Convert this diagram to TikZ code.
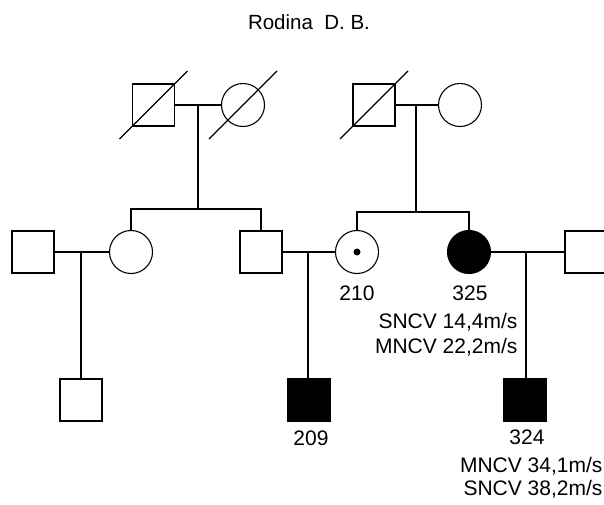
\documentclass[tikz,border=0pt]{standalone}
\usepackage{fontspec}
\setmainfont{Liberation Sans}
\tikzset{
  male/.style={draw,rectangle,minimum size=42pt,inner sep=0pt},
  female/.style={draw,circle,minimum size=43pt,inner sep=0pt},
  ill/.style={fill=black},
  lbl/.style={font=\fontsize{21}{25}\selectfont,inner sep=0pt}
}
\begin{document}
\begin{tikzpicture}[x=1pt,y=-1pt,line width=1.1pt]
\useasboundingbox (0,0) rectangle (604,504);
\clip (0,0) rectangle (604,504);

\node[lbl,font=\fontsize{20.5}{24}\selectfont] (title) at (309,22) {Rodina\ \ D. B.};

% generation I
\node[male]   (gfa) at (153.5,105) {};
\node[female] (gma) at (243,105) {};
\node[male]   (gfb) at (374,105) {};
\node[female] (gmb) at (460,105) {};
\draw (gfa.center) +(-34,34) -- +(34,-34);
\draw (gma.center) +(-34,34) -- +(34,-34);
\draw (gfb.center) +(-34,34) -- +(34,-34);

% generation II
\node[male]       (sa)  at (33,252) {};
\node[female]     (da)  at (131,252) {};
\node[male]       (sb)  at (261,252) {};
\node[female]     (p210) at (357,252) {};
\node[female,ill] (p325) at (469,252) {};
\node[male]       (sc)  at (586,252) {};
\fill (p210.center) circle (3.5);

% generation III
\node[male]     (ca)   at (81,400) {};
\node[male,ill] (p209) at (309,400) {};
\node[male,ill] (p324) at (525,400) {};

\coordinate (ma) at (198,105);
\coordinate (ba) at (198,209);
\coordinate (mb) at (416,105);
\coordinate (bb) at (416,212);
\coordinate (mc) at (81,252);
\coordinate (md) at (308,252);
\coordinate (me) at (526,252);

\draw (gfa.east) -- (gma.west);
\draw (gfb.east) -- (gmb.west);
\draw (ma) -- (ba);
\draw (mb) -- (bb);
\draw (da.north) |- (ba) -| (sb.north);
\draw (p210.north) |- (bb) -| (p325.north);

\draw (sa.east) -- (da.west);
\draw (sb.east) -- (p210.west);
\draw (p325.east) -- (sc.west);
\draw (mc) -- (mc |- ca.north);
\draw (md) -- (md |- p209.north);
\draw (me) -- (me |- p324.north);

\node[lbl] (t210) at (357,293) {210};
\node[lbl] (t325) at (470,293) {325};
\node[lbl] (t209) at (311,438) {209};
\node[lbl] (t324) at (527,437) {324};
\node[lbl,anchor=east] (va) at (518,322) {SNCV 14,4m/s};
\node[lbl,anchor=east] (vb) at (518,347) {MNCV 22,2m/s};
\node[lbl,anchor=east] (vc) at (603,466) {MNCV 34,1m/s};
\node[lbl,anchor=east] (vd) at (603,489) {SNCV 38,2m/s};
\end{tikzpicture}
\end{document}
